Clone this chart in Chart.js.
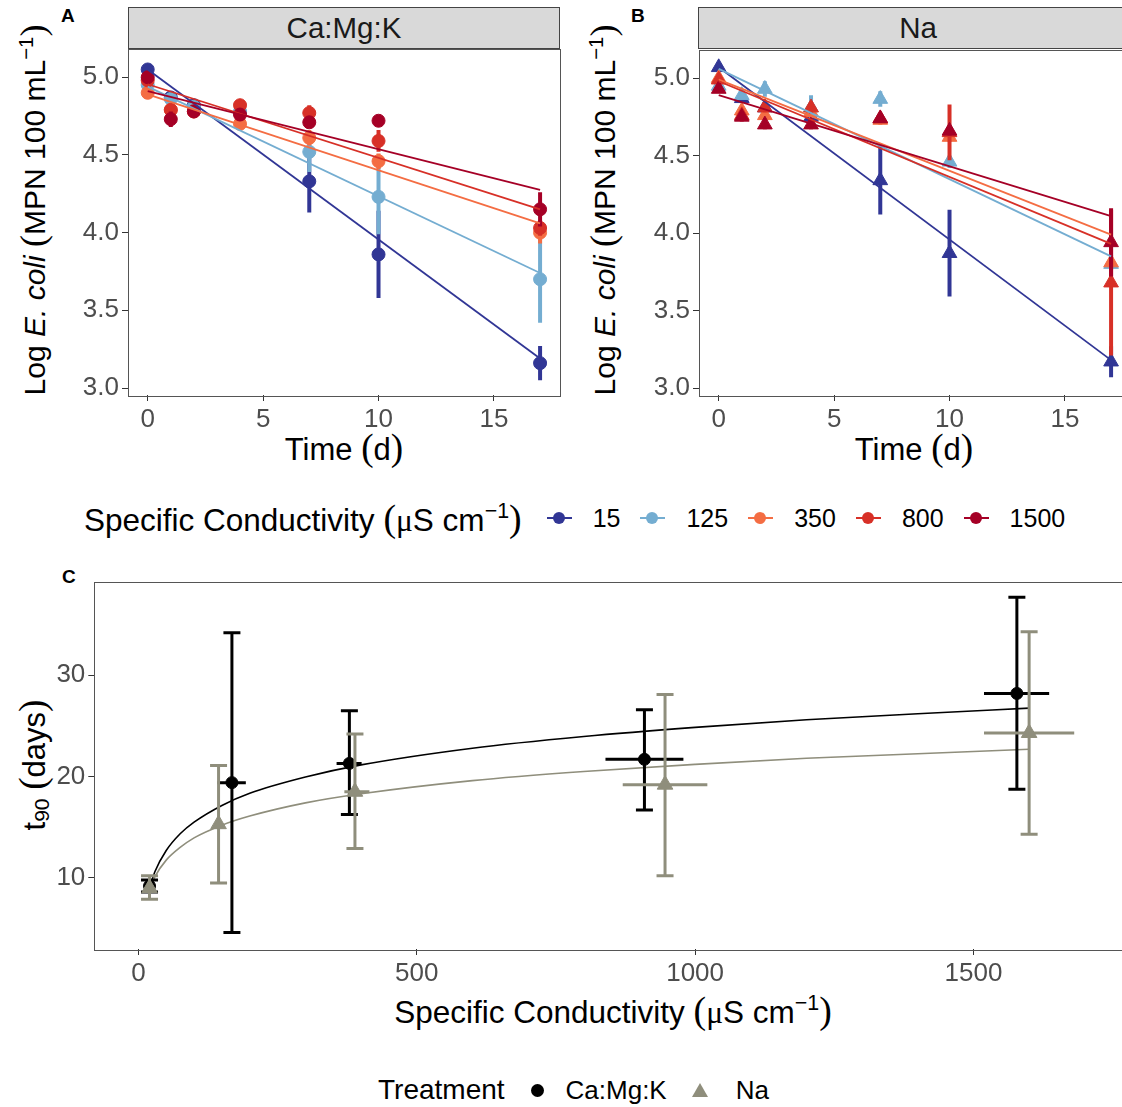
<!DOCTYPE html>
<html>
<head>
<meta charset="utf-8">
<script src="https://cdn.jsdelivr.net/npm/chart.js@4.4.1/dist/chart.umd.min.js"></script>
<style>
  body { margin:0; width:1122px; height:1107px; overflow:hidden; background:#fff; position:relative;
         font-family:"Liberation Sans", Arial, sans-serif; color:#000; }
  canvas { position:absolute; }
  .strip { position:absolute; background:#d9d9d9; border:1px solid #444; box-sizing:border-box;
           text-align:center; font-size:29.5px; color:#1a1a1a; line-height:39px; }
  .tag { position:absolute; font-weight:bold; font-size:19px; }
  .ytitle { position:absolute; white-space:nowrap; transform:translate(-50%,-50%) rotate(-90deg); font-size:30px; }
  .xtitle { position:absolute; white-space:nowrap; transform:translate(-50%,-50%); font-size:31px; }
  .par { font-family:"Liberation Serif", serif; font-size:1.2em; }
  .mu { font-family:"Liberation Serif", serif; }
  sup { font-size:0.68em; vertical-align:0.6em; line-height:0; }
  sub { font-size:0.68em; vertical-align:-0.2em; line-height:0; }
  .legend { position:absolute; display:flex; align-items:center; white-space:nowrap; transform:translateY(-50%); }
  .lkey { position:relative; width:25px; height:14px; }
  .lkey .ln { position:absolute; left:0; right:0; top:6px; height:2px; }
  .lkey .dot { position:absolute; left:6px; top:1px; width:12px; height:12px; border-radius:50%; }
</style>
</head>
<body>

<div class="tag" style="left:61px;top:5px;">A</div>
<div class="tag" style="left:631px;top:5px;">B</div>
<div class="tag" style="left:62px;top:566px;">C</div>

<div class="strip" style="left:128px;top:7px;width:432px;height:42px;">Ca:Mg:K</div>
<div class="strip" style="left:698px;top:7px;width:440px;height:42px;">Na</div>

<div class="ytitle" style="left:33px;top:210px;">Log <i>E. coli</i> <span class="par">(</span>MPN 100 mL<sup>−1</sup><span class="par">)</span></div>
<div class="ytitle" style="left:603px;top:210px;">Log <i>E. coli</i> <span class="par">(</span>MPN 100 mL<sup>−1</sup><span class="par">)</span></div>
<div class="xtitle" style="left:344px;top:447px;">Time <span class="par">(</span>d<span class="par">)</span></div>
<div class="xtitle" style="left:914px;top:447px;">Time <span class="par">(</span>d<span class="par">)</span></div>

<div class="legend" id="legendCond" style="left:84px;top:518px;font-size:31.5px;"></div>

<div class="ytitle" style="left:32px;top:765px;font-size:31px;">t<sub>90</sub> <span class="par">(</span>days<span class="par">)</span></div>
<div class="xtitle" style="left:613px;top:1010px;font-size:31.5px;">Specific Conductivity <span class="par">(</span><span class="mu">μ</span>S cm<sup>−1</sup><span class="par">)</span></div>

<div class="legend" id="legendTreat" style="left:378px;top:1090px;font-size:28px;"></div>

<canvas id="chartA" width="575" height="430" style="left:0px;top:40px;"></canvas>
<canvas id="chartB" width="575" height="430" style="left:570.6px;top:40px;"></canvas>
<canvas id="chartC" width="1150" height="460" style="left:0px;top:570px;"></canvas>

<script>
// ---- Panels A and B: log E. coli over time ----
const days = [0, 1, 2, 4, 7, 10, 17];
const timeTicks = [0, 5, 10, 15];
const logTicks = [3.0, 3.5, 4.0, 4.5, 5.0];
const conductivityLevels = ['15', '125', '350', '800', '1500'];
const levelColors = ['#313695', '#74add1', '#f46d43', '#d73027', '#a50026'];

// Ca:Mg:K means
const caMgK15   = [5.05, 4.87, 4.82, 4.77, 4.33, 3.86, 3.16];
const caMgK125  = [4.95, 4.86, 4.81, 4.78, 4.52, 4.23, 3.70];
const caMgK350  = [4.90, 4.79, 4.78, 4.70, 4.61, 4.46, 4.00];
const caMgK800  = [4.98, 4.79, 4.78, 4.82, 4.77, 4.59, 4.03];
const caMgK1500 = [5.00, 4.73, 4.78, 4.76, 4.71, 4.72, 4.15];
// Ca:Mg:K error (+/-)
const caMgKErr15   = [0, 0.02, 0.02, 0.03, 0.20, 0.28, 0.11];
const caMgKErr125  = [0, 0.02, 0.02, 0.04, 0.13, 0.24, 0.28];
const caMgKErr350  = [0, 0.02, 0.02, 0.02, 0.05, 0.05, 0.07];
const caMgKErr800  = [0, 0.03, 0.03, 0.03, 0.05, 0.07, 0.05];
const caMgKErr1500 = [0, 0.05, 0.02, 0.02, 0.03, 0.02, 0.11];
// Ca:Mg:K fitted line, value at day 0 and day 17
const caMgKFitStart = [5.05, 4.94, 4.89, 4.955, 4.91];
const caMgKFitEnd   = [3.19, 3.74, 4.06, 4.15, 4.275];

// Na means
const na15   = [5.07, 4.87, 4.81, 4.75, 4.34, 3.87, 3.17];
const na125  = [4.95, 4.89, 4.93, 4.81, 4.865, 4.46, 3.80];
const na350  = [5.00, 4.79, 4.76, 4.78, 4.73, 4.62, 3.81];
const na800  = [4.99, 4.76, 4.81, 4.81, 4.74, 4.65, 3.68];
const na1500 = [4.93, 4.75, 4.70, 4.70, 4.74, 4.66, 3.94];
// Na error (+/-)
const naErr15   = [0, 0.02, 0.02, 0.02, 0.22, 0.28, 0.10];
const naErr125  = [0, 0.02, 0.05, 0.08, 0.05, 0.04, 0.03];
const naErr350  = [0, 0.03, 0.03, 0.03, 0.03, 0.03, 0.05];
const naErr800  = [0, 0.03, 0.03, 0.04, 0.03, 0.18, 0.47];
const naErr1500 = [0, 0.03, 0.03, 0.03, 0.03, 0.03, 0.22];
// Na fitted line, value at day 0 and day 17
const naFitStart = [5.07, 5.06, 4.99, 4.98, 4.89];
const naFitEnd   = [3.18, 3.85, 3.99, 3.93, 4.11];

// ---- Panel C: t90 vs specific conductivity ----
const condTicks = [0, 500, 1000, 1500];
const t90Ticks = [10, 20, 30];
const treatments = ['Ca:Mg:K', 'Na'];
const treatColors = ['#000000', '#8f8e7c'];

const caCond    = [20, 168, 379, 909, 1578];
const caCondLo  = [18, 142, 356, 839, 1519];
const caCondHi  = [22, 193, 401, 979, 1636];
const caT90     = [9.2, 19.4, 21.3, 21.7, 28.2];
const caT90Lo   = [8.6, 4.6, 16.25, 16.7, 18.75];
const caT90Hi   = [9.8, 34.2, 26.5, 26.6, 37.7];

const naCond    = [20, 144, 389, 946, 1600];
const naCondLo  = [18, 144, 370, 870, 1519];
const naCondHi  = [22, 144, 415, 1022, 1681];
const naT90     = [9.0, 15.3, 18.5, 19.2, 24.3];
const naT90Lo   = [7.9, 9.5, 12.9, 10.2, 14.3];
const naT90Hi   = [10.2, 21.1, 24.2, 28.1, 34.3];

// fitted curves
const curveCond = [20, 30, 50, 75, 100, 150, 200, 300, 400, 600, 800, 1000, 1200, 1400, 1600];
const caCurve   = [9.0, 10.65, 12.7, 14.35, 15.5, 17.15, 18.35, 19.95, 21.15, 22.8, 23.95, 24.85, 25.6, 26.2, 26.75];
const naCurve   = [8.85, 10.15, 11.75, 13.0, 13.95, 15.2, 16.1, 17.4, 18.3, 19.6, 20.5, 21.2, 21.8, 22.25, 22.7];

const FONT = '"Liberation Sans", Arial, sans-serif';

const panelBox = {
    id: 'panelBox',
    afterDraw(chart) {
        const { ctx, chartArea: a } = chart;
        ctx.save();
        ctx.strokeStyle = '#555';
        ctx.lineWidth = 1;
        ctx.strokeRect(Math.round(a.left) + 0.5, Math.round(a.top) + 0.5,
                       Math.round(a.right - a.left), Math.round(a.bottom - a.top));
        ctx.restore();
    }
};

function axisOpts(min, max, tickList, fmt, fit) {
    return {
        type: 'linear', min, max,
        afterBuildTicks: s => { s.ticks = tickList.map(v => ({ value: v })); },
        afterFit: fit,
        grid: { drawOnChartArea: false, drawTicks: true, tickLength: 6, tickColor: '#333', tickWidth: 1 },
        border: { display: false },
        ticks: { font: { size: 26, family: FONT }, color: '#4d4d4d', padding: 3,
                 maxRotation: 0, autoSkip: false, callback: fmt }
    };
}

// fixed axis sizes so the plot area lands where the reference has it
const fitX = h => s => { s.height = h; s.paddingLeft = 0; s.paddingRight = 0; };
const fitY = w => s => { s.width = w; s.paddingTop = 0; s.paddingBottom = 0; };

function withOrder(ds) {
    ds.forEach((d, i) => { d.order = ds.length - i; });
    return ds;
}

function timePanel(canvasId, means, errs, fitStart, fitEnd, pointStyle, radius) {
    const ds = [];
    means.forEach((m, g) => {
        const color = levelColors[g];
        const bars = [];
        days.forEach((d, i) => {
            if (errs[g][i] > 0) {
                bars.push({ x: d, y: m[i] - errs[g][i] }, { x: d, y: m[i] + errs[g][i] }, { x: d, y: null });
            }
        });
        ds.push({ data: bars, borderColor: color, borderWidth: 4, pointRadius: 0, spanGaps: false, borderCapStyle: 'butt' });
        ds.push({
            data: days.map((d, i) => ({ x: d, y: m[i] })),
            showLine: false, pointStyle, pointRadius: radius,
            pointBackgroundColor: color, pointBorderColor: color, pointBorderWidth: 1
        });
    });
    means.forEach((m, g) => {
        ds.push({
            data: [{ x: days[0], y: fitStart[g] }, { x: days[days.length - 1], y: fitEnd[g] }],
            borderColor: levelColors[g], borderWidth: 1.8, pointRadius: 0
        });
    });

    new Chart(document.getElementById(canvasId), {
        type: 'line',
        data: { datasets: withOrder(ds) },
        options: {
            animation: false, responsive: false, devicePixelRatio: 1,
            layout: { padding: { top: 8.5, right: 15.3, left: 0, bottom: 0 } },
            plugins: { legend: { display: false }, tooltip: { enabled: false } },
            scales: {
                x: axisOpts(-0.854, 17.85, timeTicks, v => String(v), fitX(75)),
                y: axisOpts(2.955, 5.185, logTicks, v => v.toFixed(1), fitY(128))
            }
        },
        plugins: [panelBox]
    });
}

timePanel('chartA', [caMgK15, caMgK125, caMgK350, caMgK800, caMgK1500],
          [caMgKErr15, caMgKErr125, caMgKErr350, caMgKErr800, caMgKErr1500],
          caMgKFitStart, caMgKFitEnd, 'circle', 6.5);
timePanel('chartB', [na15, na125, na350, na800, na1500],
          [naErr15, naErr125, naErr350, naErr800, naErr1500],
          naFitStart, naFitEnd, 'triangle', 8.5);

// ---- Panel C ----
function treatmentSets(color, cond, condLo, condHi, t90, lo, hi, pointStyle, radius) {
    const vbars = [], hbars = [], caps = [];
    cond.forEach((c, i) => {
        vbars.push({ x: c, y: lo[i] }, { x: c, y: hi[i] }, { x: c, y: null });
        caps.push({ x: c, y: lo[i] }, { x: c, y: hi[i] });
        if (condHi[i] > condLo[i]) hbars.push({ x: condLo[i], y: t90[i] }, { x: condHi[i], y: t90[i] }, { x: c, y: null });
    });
    return [
        { data: vbars, borderColor: color, borderWidth: 3, pointRadius: 0, spanGaps: false, borderCapStyle: 'butt' },
        { data: caps, showLine: false, pointStyle: 'line', pointRadius: 8.5, pointBorderColor: color, pointBorderWidth: 3 },
        { data: hbars, borderColor: color, borderWidth: 3, pointRadius: 0, spanGaps: false, borderCapStyle: 'butt' },
        { data: cond.map((c, i) => ({ x: c, y: t90[i] })), showLine: false, pointStyle, pointRadius: radius,
          pointBackgroundColor: color, pointBorderColor: color, pointBorderWidth: 1 }
    ];
}

const curveSets = [caCurve, naCurve].map((curve, k) => ({
    data: curveCond.map((c, i) => ({ x: c, y: curve[i] })),
    borderColor: treatColors[k], borderWidth: 1.6, pointRadius: 0, cubicInterpolationMode: 'monotone'
}));

const dsC = withOrder([
    ...curveSets,
    ...treatmentSets(treatColors[0], caCond, caCondLo, caCondHi, caT90, caT90Lo, caT90Hi, 'circle', 6),
    ...treatmentSets(treatColors[1], naCond, naCondLo, naCondHi, naT90, naT90Lo, naT90Hi, 'triangle', 9)
]);

new Chart(document.getElementById('chartC'), {
    type: 'line',
    data: { datasets: dsC },
    options: {
        animation: false, responsive: false, devicePixelRatio: 1,
        layout: { padding: { top: 7.3, right: 19, left: 0, bottom: 0 } },
        plugins: { legend: { display: false }, tooltip: { enabled: false } },
        scales: {
            x: axisOpts(-79.2, 1783, condTicks, v => String(v), fitX(81)),
            y: axisOpts(2.98, 39.25, t90Ticks, v => String(v), fitY(94.3))
        }
    },
    plugins: [panelBox]
});

// ---- Legends ----
const legCond = document.getElementById('legendCond');
legCond.innerHTML = '<span style="margin-right:25px">Specific Conductivity <span class="par">(</span><span class="mu">μ</span>S cm<sup>−1</sup><span class="par">)</span></span>' +
    conductivityLevels.map((lv, i) =>
        `<span class="lkey" style="margin-right:21px"><span class="ln" style="background:${levelColors[i]}"></span><span class="dot" style="background:${levelColors[i]}"></span></span>` +
        `<span style="font-size:25px;margin-right:20px">${lv}</span>`).join('');

const legTreat = document.getElementById('legendTreat');
legTreat.innerHTML = '<span style="margin-right:26px">Treatment</span>' +
    `<span style="width:13px;height:13px;border-radius:50%;background:${treatColors[0]};margin-right:22px"></span>` +
    `<span style="font-size:26px;margin-right:25px">${treatments[0]}</span>` +
    `<span style="width:0;height:0;border-left:8px solid transparent;border-right:8px solid transparent;border-bottom:14px solid ${treatColors[1]};margin-right:28px"></span>` +
    `<span style="font-size:26px">${treatments[1]}</span>`;
</script>
</body>
</html>
